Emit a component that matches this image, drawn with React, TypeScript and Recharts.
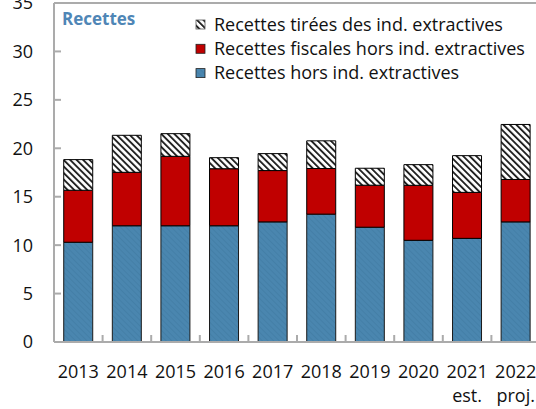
import React from 'react';
import { BarChart, Bar, XAxis, YAxis, ReferenceLine, Legend } from 'recharts';

const years = ['2013', '2014', '2015', '2016', '2017', '2018', '2019', '2020', '2021', '2022'];
const subLabels = ['', '', '', '', '', '', '', '', 'est.', 'proj.'];
const horsExtractives = [10.3, 12.0, 12.0, 12.0, 12.4, 13.2, 11.85, 10.5, 10.7, 12.4];
const fiscalesHors = [5.37, 5.52, 7.17, 5.89, 5.3, 4.71, 4.34, 5.68, 4.75, 4.38];
const extractives = [3.16, 3.82, 2.34, 1.14, 1.75, 2.86, 1.75, 2.13, 3.79, 5.68];
const yTicks = [0, 5, 10, 15, 20, 25, 30, 35];
const panelTitle = 'Recettes';
const seriesNames = [
  'Recettes hors ind. extractives',
  'Recettes fiscales hors ind. extractives',
  'Recettes tirées des ind. extractives',
];
const legendOrder = ['hatch', 'red', 'blue'];

const data = years.map((y, i) => ({
  year: y,
  sub: subLabels[i],
  blue: horsExtractives[i],
  red: fiscalesHors[i],
  hatch: extractives[i],
}));

const FONT = "'Open Sans', 'Noto Sans', sans-serif";
const AXIS_GRAY = '#ABABAB';
const BLUE = '#4A86AF';
const RED = '#C00000';
const FILLS: Record<string, string> = { blue: 'url(#blueHatch)', red: RED, hatch: 'url(#hatch)' };

const YTick = (props: any) => {
  const { x, y, payload } = props;
  return (
    <g>
      <line x1={x + 21} x2={x + 28} y1={y} y2={y} stroke={AXIS_GRAY} strokeWidth={2} />
      <text x={x} y={y} dy="0.36em" textAnchor="end" fontSize={18} fontFamily={FONT} fill="#111">
        {payload.value}
      </text>
    </g>
  );
};

const XTick = (props: any) => {
  const { x, y, payload, index, width, visibleTicksCount } = props;
  const band = width && visibleTicksCount ? width / visibleTicksCount : 48.6;
  const axisY = y - 23;
  const sub = subLabels[index] || '';
  return (
    <g>
      {index < years.length - 1 && (
        <line x1={x + band / 2} x2={x + band / 2} y1={axisY} y2={axisY - 7} stroke={AXIS_GRAY} strokeWidth={2} />
      )}
      <text x={x} y={y} dy="0.71em" textAnchor="middle" fontSize={18} fontFamily={FONT} fill="#111">
        {payload.value}
      </text>
      {sub && (
        <text x={x} y={y + 24.5} dy="0.71em" textAnchor="middle" fontSize={18} fontFamily={FONT} fill="#111">
          {sub}
        </text>
      )}
    </g>
  );
};

const LegendContent = (props: any) => {
  const items = (props.payload || []).slice();
  items.sort((a: any, b: any) => legendOrder.indexOf(a.dataKey) - legendOrder.indexOf(b.dataKey));
  return (
    <svg width={536} height={90} style={{ display: 'block' }}>
      <text x={62} y={25} fontSize={17} fontWeight="bold" fontFamily={FONT} fill="#4F86B6">
        {panelTitle}
      </text>
      {items.map((p: any, i: number) => (
        <g key={i}>
          <rect
            x={196}
            y={20 + 24.3 * i}
            width={9}
            height={9}
            fill={FILLS[p.dataKey] || p.color}
            stroke={p.dataKey === 'hatch' ? '#555' : '#222'}
            strokeWidth={0.8}
          />
          <text x={214} y={31 + 24 * i} fontSize={18} fontFamily={FONT} fill="#111">
            {p.value}
          </text>
        </g>
      ))}
    </svg>
  );
};

export default function App() {
  return (
    <div
      style={{
        position: 'absolute',
        left: 0,
        top: 0,
        width: 536,
        height: 409,
        overflow: 'hidden',
        background: '#fff',
      }}
    >
      <BarChart width={544} height={409} data={data} margin={{ top: 3, right: 4, left: 0, bottom: 0 }} barCategoryGap="20%">
        <defs>
          <pattern id="hatch" patternUnits="userSpaceOnUse" width={4.6} height={4.6} patternTransform="rotate(-45)">
            <rect x={0} y={0} width={4.6} height={4.6} fill="#fff" />
            <rect x={0} y={0} width={1.9} height={4.6} fill="#222" />
          </pattern>
          <pattern id="blueHatch" patternUnits="userSpaceOnUse" width={4} height={4} patternTransform="rotate(-45)">
            <rect x={0} y={0} width={4} height={4} fill={BLUE} />
            <rect x={0} y={0} width={1} height={4} fill="#447FA7" />
          </pattern>
        </defs>
        <XAxis
          dataKey="year"
          height={67}
          interval={0}
          tickSize={0}
          tickMargin={23}
          tickLine={false}
          axisLine={{ stroke: AXIS_GRAY, strokeWidth: 2 }}
          tick={<XTick />}
        />
        <YAxis
          width={54}
          domain={[0, 35]}
          ticks={yTicks}
          interval={0}
          tickSize={0}
          tickMargin={21}
          tickLine={false}
          axisLine={{ stroke: AXIS_GRAY, strokeWidth: 2 }}
          tick={<YTick />}
        />
        <ReferenceLine y={35} stroke={AXIS_GRAY} strokeWidth={2} />
        <Legend
          layout="vertical"
          align="center"
          verticalAlign="middle"
          wrapperStyle={{ top: 0, left: 0, width: 536, height: 90 }}
          content={<LegendContent />}
        />
        <Bar dataKey="blue" name={seriesNames[0]} stackId="a" fill="url(#blueHatch)" stroke="#1a1a1a" strokeWidth={1} isAnimationActive={false} />
        <Bar dataKey="red" name={seriesNames[1]} stackId="a" fill={RED} stroke="#000" strokeWidth={1} isAnimationActive={false} />
        <Bar dataKey="hatch" name={seriesNames[2]} stackId="a" fill="url(#hatch)" stroke="#000" strokeWidth={1} isAnimationActive={false} />
      </BarChart>
    </div>
  );
}
